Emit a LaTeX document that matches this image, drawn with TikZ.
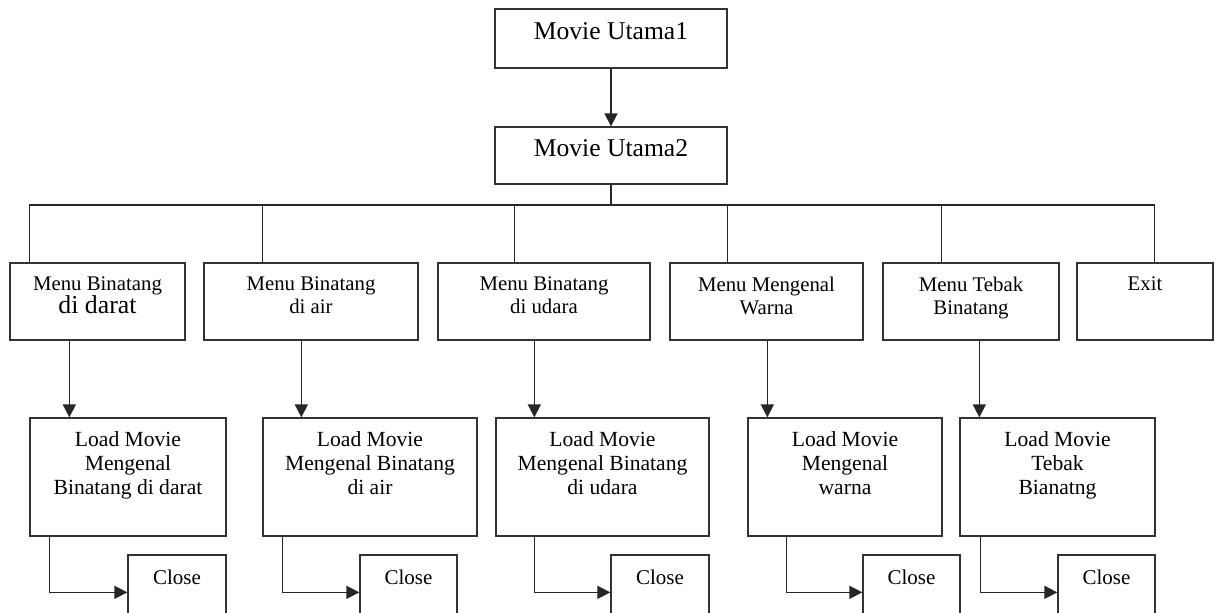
\documentclass[tikz,border=0pt]{standalone}
\usepackage{fontspec}
\setmainfont{Liberation Serif}
\usetikzlibrary{arrows.meta,calc}
\begin{document}
\begin{tikzpicture}[x=0.5pt,y=-0.5pt,
  box/.style={draw=black!80, line width=0.65pt, inner sep=0pt},
  ln/.style={draw=black!85, line width=0.8pt},
  arr/.style={ln, -{Triangle[length=6.5pt,width=6.5pt]}},
  txt/.style={align=center, inner sep=0pt, anchor=north},
  ftop/.style={font=\fontsize{12.8}{15}\selectfont},
  fmenu/.style={font=\fontsize{10.4}{11.5}\selectfont},
  fload/.style={font=\fontsize{10.8}{12}\selectfont},
  fclose/.style={font=\fontsize{10.5}{12}\selectfont},
]
\clip (0,0) rectangle (1215,612);
\fill[white] (0,0) rectangle (1215,612);

% top boxes
\node[box, minimum width=116pt, minimum height=29.5pt] (u1) at (611,38.5) {};
\node[box, minimum width=116pt, minimum height=28.5pt] (u2) at (611,155.5) {};
\node[txt, ftop] (u1t) at ([yshift=-7pt]u1.north) {Movie Utama1};
\node[txt, ftop] (u2t) at ([yshift=-6.5pt]u2.north) {Movie Utama2};

% menu boxes
\node[box, minimum width=87.5pt, minimum height=38.5pt] (m1) at (97.5,301.5) {};
\node[box, minimum width=107pt,  minimum height=38.5pt] (m2) at (311,301.5) {};
\node[box, minimum width=106pt,  minimum height=38.5pt] (m3) at (544,301.5) {};
\node[box, minimum width=96.5pt, minimum height=38.5pt] (m4) at (766.5,301.5) {};
\node[box, minimum width=88pt,   minimum height=38.5pt] (m5) at (971,301.5) {};
\node[box, minimum width=68pt,   minimum height=38.5pt] (m6) at (1145,301.5) {};
\node[txt, fmenu] (m1t) at ([yshift=-7pt]m1.north) {Menu Binatang\\{\fontsize{12.9}{14}\selectfont di darat}};
\node[txt, fmenu] (m2t) at ([yshift=-7pt]m2.north) {Menu Binatang\\di air};
\node[txt, fmenu] (m3t) at ([yshift=-7pt]m3.north) {Menu Binatang\\di udara};
\node[txt, fmenu] (m4t) at ([yshift=-7pt]m4.north) {Menu Mengenal\\Warna};
\node[txt, fmenu] (m5t) at ([yshift=-7pt]m5.north) {Menu Tebak\\Binatang};
\node[txt, fmenu] (m6t) at ([yshift=-7pt]m6.north) {Exit};

% load boxes
\node[box, minimum width=98pt,   minimum height=59pt] (l1) at (128,477) {};
\node[box, minimum width=107pt,  minimum height=59pt] (l2) at (370,477) {};
\node[box, minimum width=106.5pt,minimum height=59pt] (l3) at (602.5,477) {};
\node[box, minimum width=97pt,   minimum height=59pt] (l4) at (845,477) {};
\node[box, minimum width=97.5pt, minimum height=59pt] (l5) at (1057.5,477) {};
\node[txt, fload] (l1t) at ([yshift=-7pt]l1.north) {Load Movie\\Mengenal\\Binatang di darat};
\node[txt, fload] (l2t) at ([yshift=-7pt]l2.north) {Load Movie\\Mengenal Binatang\\di air};
\node[txt, fload] (l3t) at ([yshift=-7pt]l3.north) {Load Movie\\Mengenal Binatang\\di udara};
\node[txt, fload] (l4t) at ([yshift=-7pt]l4.north) {Load Movie\\Mengenal\\warna};
\node[txt, fload] (l5t) at ([yshift=-7pt]l5.north) {Load Movie\\Tebak\\Bianatng};

% close boxes
\node[box, minimum width=49pt,   minimum height=47.5pt] (c1) at (177,602.5) {};
\node[box, minimum width=48.5pt, minimum height=47.5pt] (c2) at (408.5,602.5) {};
\node[box, minimum width=49pt,   minimum height=47.5pt] (c3) at (660,602.5) {};
\node[box, minimum width=48.5pt, minimum height=47.5pt] (c4) at (911.5,602.5) {};
\node[box, minimum width=48.5pt, minimum height=47.5pt] (c5) at (1106.5,602.5) {};
\foreach \c in {c1,c2,c3,c4,c5}{
  \node[txt, fclose] (\c t) at ([yshift=-7.5pt]\c.north) {Close};
}

% connectors
\draw[arr] (u1) -- (u2);
\coordinate (bus) at (611,205);
\draw[ln] (u2.south) -- (bus);
\draw[ln] ([xshift=10pt]m1.north west) |- (bus) -| ([xshift=39pt]m6.north west);
\draw[ln] ([xshift=29.5pt]m2.north west) coordinate (d2) -- (d2 |- bus);
\draw[ln] ([xshift=38.5pt]m3.north west) coordinate (d3) -- (d3 |- bus);
\draw[ln] ([xshift=29pt]m4.north west) coordinate (d4) -- (d4 |- bus);
\draw[ln] ([xshift=29.5pt]m5.north west) coordinate (d5) -- (d5 |- bus);

\draw[arr] ([xshift=30pt]m1.south west) coordinate (a1) -- (a1 |- l1.north);
\draw[arr] ([xshift=49pt]m2.south west) coordinate (a2) -- (a2 |- l2.north);
\draw[arr] ([xshift=48.5pt]m3.south west) coordinate (a3) -- (a3 |- l3.north);
\draw[arr] ([xshift=49pt]m4.south west) coordinate (a4) -- (a4 |- l4.north);
\draw[arr] ([xshift=48.5pt]m5.south west) coordinate (a5) -- (a5 |- l5.north);

\draw[arr] ([xshift=10pt]l1.south west) |- ([yshift=-19pt]c1.north west);
\draw[arr] ([xshift=10pt]l2.south west) |- ([yshift=-19pt]c2.north west);
\draw[arr] ([xshift=19.5pt]l3.south west) |- ([yshift=-19pt]c3.north west);
\draw[arr] ([xshift=19.5pt]l4.south west) |- ([yshift=-19pt]c4.north west);
\draw[arr] ([xshift=10.5pt]l5.south west) |- ([yshift=-19pt]c5.north west);
\end{tikzpicture}
\end{document}
